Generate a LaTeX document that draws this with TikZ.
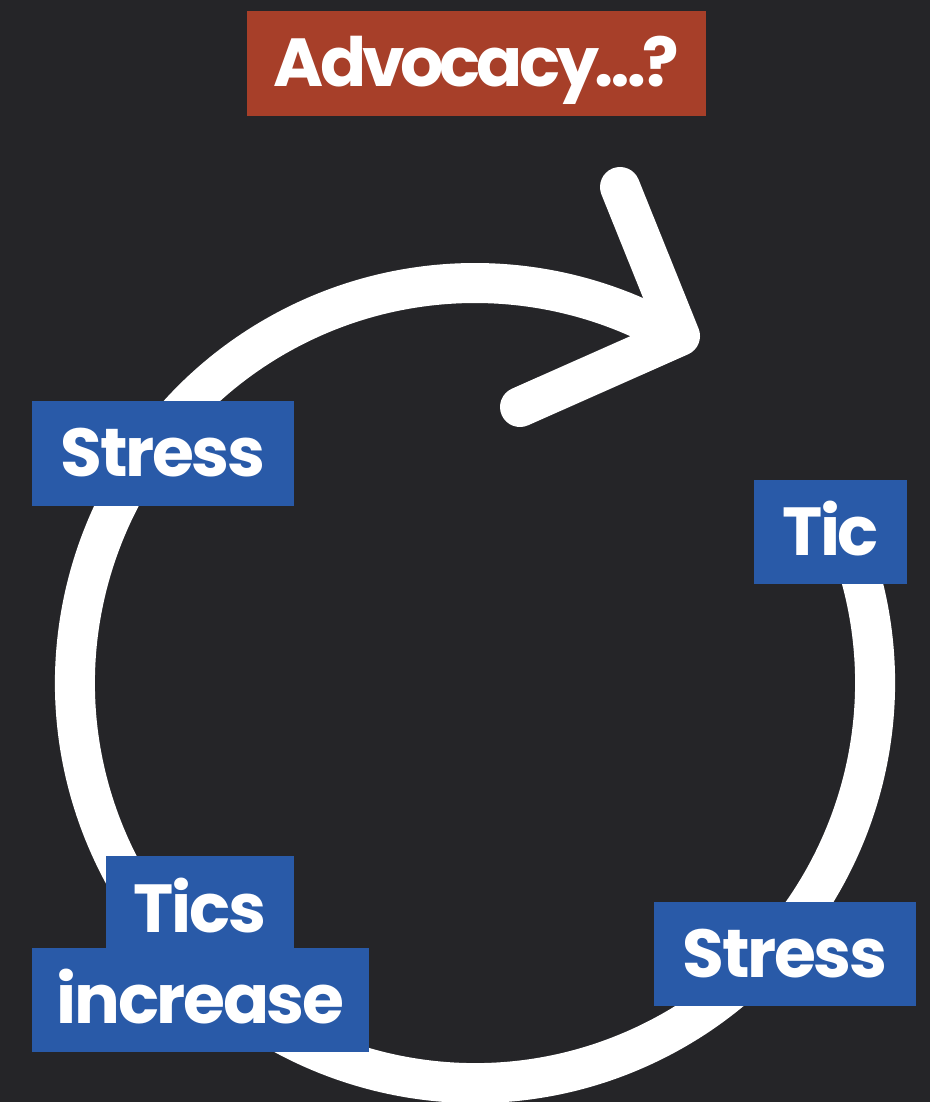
\documentclass[tikz,border=0pt]{standalone}
\usepackage{fontspec}
\newfontfamily\popfont{Poppins}[LetterSpace=-3.5]
\newfontfamily\poptight{Poppins}[LetterSpace=-6]
\usetikzlibrary{calc}
\definecolor{bg}{HTML}{252528}
\definecolor{boxblue}{HTML}{295AA8}
\definecolor{boxred}{HTML}{A73F29}
\begin{document}
\begin{tikzpicture}[x=1pt,y=-1pt,
  lbl/.style={font=\popfont\bfseries\fontsize{68}{80}\selectfont, text=white,
    inner sep=0pt, text height=46pt, text depth=0pt, align=center},
  bluebox/.style={lbl, fill=boxblue},
  redbox/.style={lbl, fill=boxred, font=\poptight\bfseries\fontsize{68}{80}\selectfont},
  loopline/.style={draw=white, line width=40pt, line cap=round, line join=round}]
\fill[bg] (0,0) rectangle (930,1102);
\useasboundingbox (0,0) rectangle (930,1102);
% cycle arc and open arrowhead
\coordinate (c) at (475,683);
\coordinate (tip) at (680,336);
\coordinate (armA) at (620,187);
\coordinate (armB) at (520,407);
\draw[loopline] ($(c)+(-25:400)$) arc[start angle=-25, end angle=300, radius=400];
\draw[loopline] (armA) -- (tip) -- (armB);
% labels
\node[redbox, minimum width=459pt, minimum height=105pt] (adv) at (476.5,63.5) {Advocacy…?};
\node[bluebox, minimum width=262pt, minimum height=105pt] (stressA) at (163,453.5) {Stress};
\node[bluebox, minimum width=153pt, minimum height=104pt] (tic) at (830.5,532) {Tic};
\node[bluebox, minimum width=262pt, minimum height=104pt] (stressB) at (785,954) {Stress};
\node[bluebox, minimum width=188pt, minimum height=94pt, text height=58pt] (tics) at (200,903) {Tics};
\node[bluebox, minimum width=337pt, minimum height=104pt] (incr) at (200.5,1000) {increase};
\end{tikzpicture}
\end{document}
